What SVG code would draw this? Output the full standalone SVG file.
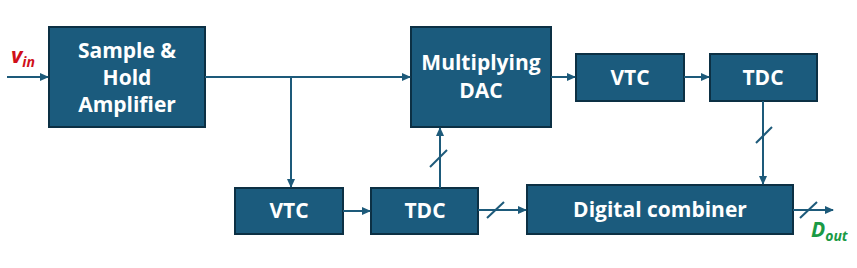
<svg xmlns="http://www.w3.org/2000/svg" width="857" height="268" viewBox="0 0 857 268">
<defs>
<marker id="ah" markerWidth="9" markerHeight="8" refX="8" refY="4" orient="auto" markerUnits="userSpaceOnUse">
<path d="M0,0 L9,4 L0,8 Z" fill="#1d5a7a"/>
</marker>
<style>
.box{fill:#1b5b7d;stroke:#0c3044;stroke-width:2}
.lbl{font-family:"Open Sans","Liberation Sans",sans-serif;font-weight:bold;font-size:21px;fill:#ffffff;text-anchor:middle}
.wire{fill:none;stroke:#1d5a7a;stroke-width:2}
.wa{fill:none;stroke:#1d5a7a;stroke-width:2;marker-end:url(#ah)}
.sl{stroke:#1d5a7a;stroke-width:2}
</style>
</defs>
<rect width="857" height="268" fill="#ffffff"/>
<g id="sha"><rect class="box" x="49" y="27" width="156" height="100"/>
<text class="lbl" x="127" y="58">Sample &amp;</text>
<text class="lbl" x="127" y="85">Hold</text>
<text class="lbl" x="127" y="112">Amplifier</text></g>
<g id="mdac"><rect class="box" x="411" y="27" width="140" height="100"/>
<text class="lbl" x="481" y="70">Multiplying</text>
<text class="lbl" x="481" y="98">DAC</text></g>
<g id="vtc1"><rect class="box" x="576" y="54" width="108" height="47"/>
<text class="lbl" x="630" y="85">VTC</text></g>
<g id="tdc1"><rect class="box" x="710" y="54" width="107" height="47"/>
<text class="lbl" x="763" y="85">TDC</text></g>
<g id="vtc2"><rect class="box" x="235" y="188" width="108" height="46"/>
<text class="lbl" x="289" y="218">VTC</text></g>
<g id="tdc2"><rect class="box" x="371" y="188" width="107" height="46"/>
<text class="lbl" x="425" y="218">TDC</text></g>
<g id="comb"><rect class="box" x="527" y="185" width="266" height="49"/>
<text class="lbl" x="660" y="217">Digital combiner</text></g>
<g id="connectors">
<line class="wa" x1="7" y1="77" x2="48" y2="77"/>
<line class="wa" x1="205" y1="77" x2="410" y2="77"/>
<line class="wa" x1="291" y1="77" x2="291" y2="187"/>
<line class="wa" x1="551" y1="77" x2="575" y2="77"/>
<line class="wa" x1="684" y1="77" x2="709" y2="77"/>
<line class="wa" x1="343" y1="211" x2="370" y2="211"/>
<line class="wa" x1="440" y1="188" x2="440" y2="128"/>
<line class="sl" x1="430" y1="167" x2="447" y2="150"/>
<line class="wa" x1="478" y1="210" x2="526" y2="210"/>
<line class="sl" x1="487" y1="218" x2="504" y2="202"/>
<line class="wa" x1="763" y1="101" x2="763" y2="184"/>
<line class="sl" x1="756" y1="143" x2="772" y2="127"/>
<line class="wa" x1="793" y1="210" x2="833" y2="210"/>
<line class="sl" x1="800" y1="218" x2="817" y2="202"/>
</g>
<g id="labels" font-family="'Open Sans','Liberation Sans',sans-serif" font-weight="bold" font-style="italic">
<text x="11" y="63" font-size="22" fill="#d0101a">v<tspan font-size="14" dy="4">in</tspan></text>
<text x="811" y="237" font-size="21" fill="#1a9a45">D<tspan font-size="14" dy="4">out</tspan></text>
</g>
</svg>
